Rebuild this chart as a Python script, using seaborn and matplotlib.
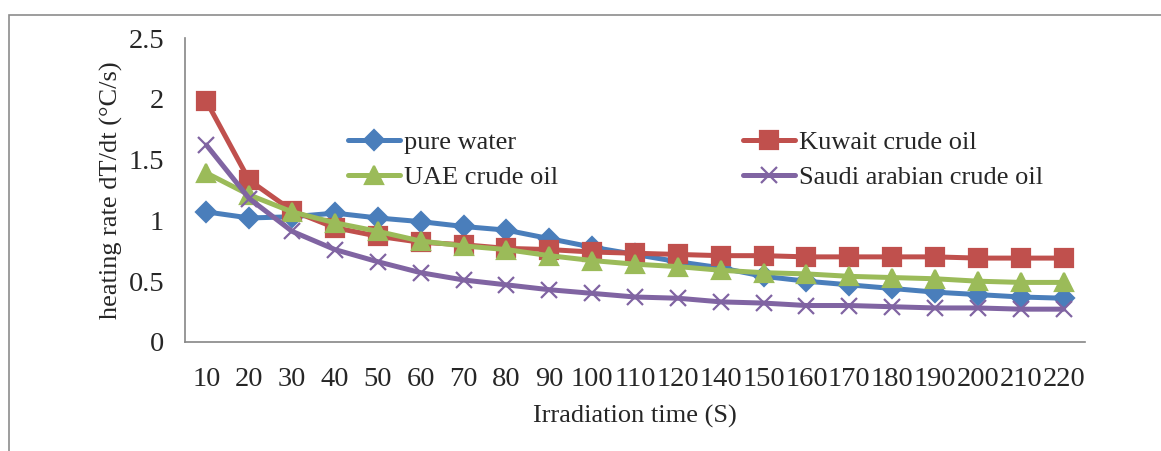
import numpy as np
import pandas as pd
import matplotlib
matplotlib.use('Agg')
import matplotlib.pyplot as plt
import seaborn as sns
from matplotlib.patches import Rectangle

# Datos
tiempos = ['10', '20', '30', '40', '50', '60', '70', '80', '90', '100', '110',
           '120', '140', '150', '160', '170', '180', '190', '200', '210', '220']
pure_water = [1.07, 1.02, 1.03, 1.06, 1.02, 0.99, 0.95, 0.92, 0.85, 0.78, 0.72,
              0.66, 0.61, 0.54, 0.50, 0.47, 0.44, 0.41, 0.39, 0.37, 0.36]
kuwait = [1.98, 1.33, 1.08, 0.94, 0.87, 0.82, 0.80, 0.77, 0.76, 0.74, 0.73,
          0.72, 0.71, 0.71, 0.70, 0.70, 0.70, 0.70, 0.69, 0.69, 0.69]
uae = [1.39, 1.21, 1.07, 0.98, 0.91, 0.83, 0.79, 0.76, 0.71, 0.67, 0.64,
       0.62, 0.59, 0.57, 0.56, 0.54, 0.53, 0.52, 0.50, 0.49, 0.49]
saudi = [1.62, 1.18, 0.91, 0.76, 0.66, 0.57, 0.51, 0.47, 0.43, 0.40, 0.37,
         0.36, 0.33, 0.32, 0.30, 0.30, 0.29, 0.28, 0.28, 0.27, 0.27]

series = [
    ('pure water', pure_water, '#4A7EBB', 'D', 10),
    ('Kuwait crude oil', kuwait, '#C0504D', 's', 13),
    ('UAE crude oil', uae, '#9BBB59', '^', 13),
    ('Saudi arabian crude oil', saudi, '#8064A2', 'x', 12),
]

sns.set_style('white')
plt.rcParams['font.family'] = ['Liberation Serif', 'DejaVu Serif']

fig = plt.figure(figsize=(11.61, 4.51), dpi=100)
ax = fig.add_axes([0.1593, 0.2417, 0.7753, 0.674])

# marco exterior del grafico
fig.patches.append(Rectangle((9 / 1161, -0.1), 1.2, (451 - 15) / 451 + 0.1,
                             transform=fig.transFigure, fill=False,
                             edgecolor='#8c8c8c', linewidth=1.2))

x = np.arange(len(tiempos))
handles = {}
for nombre, vals, color, mk, ms in series:
    df = pd.DataFrame({'t': x, 'v': vals})
    sns.lineplot(data=df, x='t', y='v', ax=ax, color=color, linewidth=3.6,
                 marker=mk, markersize=ms, markeredgecolor=color,
                 markeredgewidth=1.6, label=nombre)
    handles[nombre] = ax.lines[-1]

ax.set_xlim(-0.5, len(tiempos) - 0.5)
ax.set_ylim(0, 2.5)
ax.set_yticks([0, 0.5, 1, 1.5, 2, 2.5])
ax.set_yticklabels(['0', '0.5', '1', '1.5', '2', '2.5'])
ax.set_xticks(x)
ax.set_xticklabels(tiempos)
ax.set_xticks(np.arange(len(tiempos) + 1) - 0.5, minor=True)
ax.tick_params(axis='x', which='major', length=0, pad=18, labelsize=20.5)
ax.tick_params(axis='x', which='minor', length=7, width=1.2, color='#868686',
               direction='out')
ax.tick_params(axis='y', length=8, width=1.2, color='#868686', direction='out',
               labelsize=20.5, pad=7)

for s in ['top', 'right']:
    ax.spines[s].set_visible(False)
for s in ['left', 'bottom']:
    ax.spines[s].set_color('#868686')
    ax.spines[s].set_linewidth(1.2)

ax.set_xlabel('Irradiation time (S)', fontsize=19, labelpad=9)
ax.set_ylabel('heating rate dT/dt (\u00b0C/s)', fontsize=19, labelpad=4)

orden = ['pure water', 'UAE crude oil', 'Kuwait crude oil', 'Saudi arabian crude oil']
ax.legend([handles[n] for n in orden], orden, ncol=2, frameon=False,
          loc='upper left', mode='expand', fontsize=19,
          bbox_to_anchor=(337 / 1161, 1 - 156 / 451, 717 / 1161, 36 / 451),
          bbox_transform=fig.transFigure, handlelength=2.0,
          handletextpad=0.15, labelspacing=0.45, borderaxespad=0)

fig.savefig('out.png', dpi=100)
